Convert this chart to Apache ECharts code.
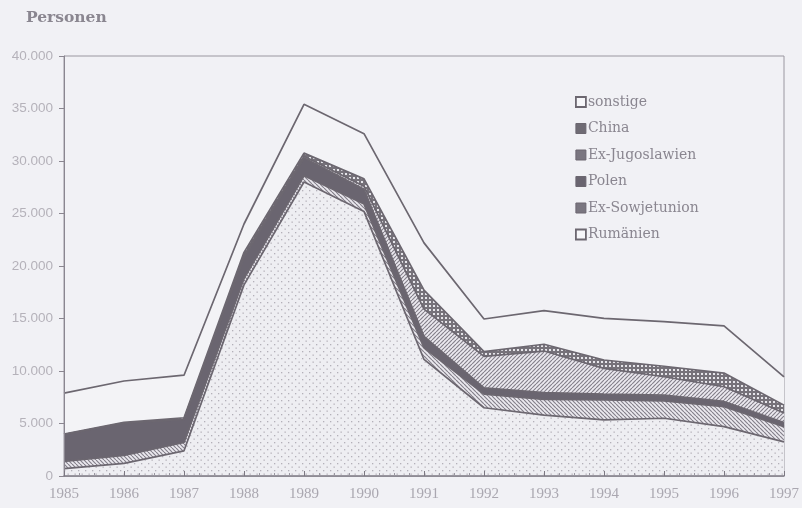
<!DOCTYPE html>
<html>
<head>
<meta charset="utf-8">
<script src="https://cdn.jsdelivr.net/npm/echarts@6/dist/echarts.min.js"></script>
<style>
html,body{margin:0;padding:0;background:#f1f1f5;}
#chart{width:802px;height:508px;}
</style>
</head>
<body>
<div id="chart"></div>
<script>
const years = ['1985','1986','1987','1988','1989','1990','1991','1992','1993','1994','1995','1996','1997'];
const rumaenien = [700,1200,2400,18200,28000,25200,11100,6500,5800,5350,5500,4700,3250];
const exSowjet  = [700,750,800,600,600,700,1100,1300,1500,1900,1650,1900,1450];
const polen     = [2550,3100,2200,2000,1700,1400,1100,600,650,550,550,500,400];
const exJugo    = [0,0,0,200,150,300,2600,3000,3950,2450,1750,1400,900];
const china     = [50,50,150,300,300,700,1800,450,650,800,1000,1300,750];
const sonstige  = [3900,3950,4050,2700,4650,4300,4500,3100,3200,3970,4250,4500,2700];

const BG = '#f1f1f5';
const DARK = '#6c6770';

function pattern(kind){
  const s = kind === 'dots' ? 7 : 4;
  const c = document.createElement('canvas');
  c.width = s; c.height = s;
  const g = c.getContext('2d');
  if (kind === 'dots'){
    g.fillStyle = '#eeeef2'; g.fillRect(0,0,s,s);
    g.fillStyle = '#b3b0b8';
    g.fillRect(1,1,1.3,1.3);
    g.fillRect(4.5,4.5,1.3,1.3);
  } else if (kind === 'back' || kind === 'fwd'){
    g.fillStyle = '#eceaf0'; g.fillRect(0,0,s,s);
    g.strokeStyle = '#85818b'; g.lineWidth = 1.2;
    for (let k=-s; k<=s; k+=s){
      g.beginPath();
      if (kind === 'back'){ g.moveTo(k,0); g.lineTo(k+s,s); }
      else { g.moveTo(k+s,0); g.lineTo(k,s); }
      g.stroke();
    }
  } else if (kind === 'cross'){
    g.fillStyle = '#76727a'; g.fillRect(0,0,s,s);
    g.fillStyle = '#e6e5ea'; g.fillRect(1,1,2,2);
  }
  return {image: c, repeat: 'repeat'};
}

function mk(name, arr, fill){
  return {
    name: name, type: 'line', stack: 'total', data: arr,
    xAxisIndex: 0, yAxisIndex: 0,
    showSymbol: false, symbol: 'none',
    lineStyle: {color: DARK, width: 1.7},
    itemStyle: {color: DARK},
    areaStyle: {color: fill, opacity: 1},
    emphasis: {disabled: true},
    z: 2
  };
}

function fmt(v){ return String(v).replace(/\B(?=(\d{3})+(?!\d))/g, '.'); }

const chart = echarts.init(document.getElementById('chart'), null, {renderer:'canvas'});
chart.setOption({
  backgroundColor: BG,
  animation: false,
  title: {
    text: 'Personen', left: 21, top: 5,
    textStyle: {fontFamily: 'DejaVu Serif', fontWeight: 'bold', fontSize: 15.5, color: '#8a8690'}
  },
  legend: {
    orient: 'vertical', left: 570, top: 90, itemGap: 12.5,
    itemWidth: 10, itemHeight: 10, icon: 'rect',
    textStyle: {fontFamily: 'DejaVu Serif', fontSize: 14, color: '#8a8690', lineHeight: 14, padding: [0,0,0,-3]},
    data: [
      {name:'sonstige', itemStyle:{color:'#f6f6f9', borderColor:DARK, borderWidth:1.8}},
      {name:'China', itemStyle:{color:'#6f6b74', borderColor:DARK, borderWidth:1}},
      {name:'Ex-Jugoslawien', itemStyle:{color:'#7a7680', borderColor:DARK, borderWidth:1}},
      {name:'Polen', itemStyle:{color:'#6a6570', borderColor:DARK, borderWidth:1}},
      {name:'Ex-Sowjetunion', itemStyle:{color:'#7a7680', borderColor:DARK, borderWidth:1}},
      {name:'Rumänien', itemStyle:{color:'#f6f6f9', borderColor:DARK, borderWidth:1.8}}
    ]
  },
  grid: {left: 64, right: 14, top: 56, bottom: 32, show: true, borderColor: '#9a97a0', borderWidth: 1, backgroundColor: 'transparent'},
  xAxis: [{
    type: 'category', data: years, boundaryGap: false, z: 5,
    axisLine: {show: true, lineStyle: {color: '#7c7882', width: 1.5}},
    axisTick: {show: false},
    splitLine: {show: false},
    axisLabel: {fontFamily: 'Liberation Serif', fontSize: 15, color: '#aaa7b0', margin: 11}
  }, {
    type: 'value', min: 1985, max: 1997, interval: 1, position: 'bottom', z: 6,
    axisLine: {show: false},
    axisTick: {show: true, inside: true, length: 5, lineStyle: {color: '#7c7882'}},
    minorTick: {show: true, splitNumber: 4, length: 3, lineStyle: {color: '#9a97a0'}},
    splitLine: {show: false},
    axisLabel: {show: false}
  }],
  yAxis: {
    type: 'value', min: 0, max: 40000, interval: 5000, z: 5,
    axisLine: {show: true, lineStyle: {color: '#8a8690', width: 1}},
    axisTick: {show: true, length: 5, lineStyle: {color: '#8a8690'}},
    splitLine: {show: false},
    axisLabel: {fontFamily: 'Liberation Sans', fontSize: 13.5, color: '#b5b2ba', margin: 11, formatter: fmt}
  },
  series: [
    mk('Rumänien', rumaenien, pattern('dots')),
    mk('Ex-Sowjetunion', exSowjet, pattern('back')),
    mk('Polen', polen, '#6a6570'),
    mk('Ex-Jugoslawien', exJugo, pattern('fwd')),
    mk('China', china, pattern('cross')),
    mk('sonstige', sonstige, '#f3f3f6')
  ]
});
</script>
</body>
</html>
